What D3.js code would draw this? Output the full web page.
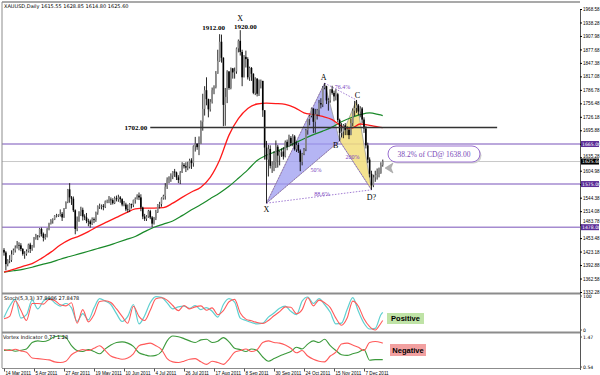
<!DOCTYPE html>
<html>
<head>
<meta charset="utf-8">
<script src="https://cdn.jsdelivr.net/npm/d3@7"></script>
<style>
  body { margin: 0; background: #fff; }
  svg { display: block; }
</style>
</head>
<body>
<div id="chart"></div>
<script>
// XAUUSD daily, 14 Mar 2011 .. 21 Dec 2011 (bar index = trading day)
const closes = [
  1421,1395,1403,1404,1417, 1426,1432,1438,1437,1429, 1418,1418,1424,1439,1429,
  1437,1454,1459,1458,1474, 1463,1454,1456,1474,1486, 1493,1495,1504,1504,1505,
  1508,1500,1520,1534,1563, 1545,1542,1516,1474,1492, 1512,1517,1502,1500,1492,
  1491,1485,1496,1494,1511, 1525,1526,1526,1524,1536, 1537,1540,1539,1532,1543,
  1541,1545,1541,1529,1529, 1518,1517,1530,1528,1539, 1542,1549,1545,1522,1502,
  1497,1502,1514,1500,1486, 1498,1512,1529,1530,1543, 1548,1569,1585,1592,1594,
  1603,1601,1590,1584,1601, 1618,1615,1612,1614,1628, 1622,1660,1666,1658,1665,
  1715,1744,1786,1766,1743, 1760,1786,1793,1823,1852, 1895,1859,1753,1771,1828,
  1791,1835,1826,1828,1880, 1897,1872,1815,1861,1856, 1815,1836,1823,1780,1812,
  1778,1806,1807,1741,1657, 1630,1654,1616,1618,1624, 1659,1639,1647,1648,1637,
  1670,1659,1679,1667,1682, 1653,1663,1650,1625,1643, 1653,1696,1721,1728,1745,
  1715,1732,1741,1757,1754, 1792,1795,1763,1763,1788, 1780,1772,1777,1719,1690,
  1693,1707,1697,1697,1685, 1712,1740,1746,1752,1738, 1745,1720,1700,1662,1630,
  1598,1572,1590,1595,1598, 1600,1618,1626
];
const highs = [
  1431,1424,1406,1415,1426, 1430,1437,1447,1444,1442, 1431,1424,1428,1441,1443,
  1438,1456,1463,1460,1476, 1477,1466,1463,1476,1488, 1496,1498,1505,1508,1507,
  1518,1512,1521,1536,1564, 1577,1548,1547,1518,1502, 1514,1524,1522,1507,1510,
  1497,1495,1500,1500,1513, 1527,1531,1529,1530,1538, 1540,1548,1545,1543,1547,
  1549,1551,1548,1543,1537, 1533,1529,1532,1531,1540, 1545,1552,1556,1552,1524,
  1508,1505,1517,1517,1503, 1501,1517,1530,1535,1545, 1551,1577,1590,1592,1599,
  1604,1609,1603,1595,1604, 1624,1622,1624,1625,1632, 1633,1662,1681,1666,1682,
  1718,1778,1795,1815,1767, 1766,1792,1797,1829,1877, 1912,1911,1860,1791,1831,
  1829,1837,1836,1837,1882, 1900,1921,1877,1865,1875, 1860,1839,1838,1824,1815,
  1813,1810,1810,1800,1740, 1672,1663,1662,1626,1649, 1673,1663,1650,1655,1658,
  1673,1675,1686,1683,1687, 1685,1671,1668,1653,1645, 1656,1699,1721,1730,1747,
  1732,1744,1744,1764,1768, 1795,1802,1796,1768,1788, 1796,1785,1788,1780,1722,
  1712,1710,1712,1705,1700, 1722,1745,1762,1764,1755, 1750,1748,1725,1705,1668,
  1635,1605,1596,1605,1610, 1612,1624,1630
];
const lows = [
  1414,1381,1390,1397,1400, 1416,1421,1430,1426,1424, 1414,1407,1414,1421,1420,
  1425,1432,1450,1449,1455, 1457,1446,1450,1455,1471, 1484,1486,1494,1500,1501,
  1502,1492,1499,1519,1532, 1533,1528,1512,1462,1469, 1490,1503,1493,1494,1487,
  1480,1477,1483,1487,1490, 1506,1519,1518,1516,1521, 1532,1532,1528,1529,1530,
  1536,1535,1533,1525,1525, 1514,1511,1512,1520,1523, 1531,1540,1539,1514,1496,
  1492,1492,1499,1496,1478, 1484,1494,1510,1520,1524, 1540,1540,1564,1577,1580,
  1586,1591,1584,1577,1575, 1600,1610,1602,1606,1610, 1609,1614,1648,1652,1640,
  1666,1695,1729,1752,1725, 1738,1756,1777,1790,1823, 1850,1848,1705,1706,1757,
  1787,1788,1812,1812,1823, 1871,1864,1795,1815,1837, 1810,1807,1807,1777,1775,
  1772,1773,1790,1726,1630, 1532,1592,1610,1600,1604, 1611,1612,1617,1636,1630,
  1635,1651,1658,1660,1660, 1650,1647,1645,1604,1617, 1640,1649,1686,1707,1725,
  1690,1690,1720,1728,1745, 1748,1788,1755,1740,1758, 1776,1761,1763,1714,1672,
  1680,1678,1685,1685,1676, 1700,1705,1728,1735,1730, 1725,1712,1690,1655,1622,
  1590,1562,1568,1580,1585, 1590,1598,1614
];
const firstOpen = 1427;

const dateLabels = ["14 Mar 2011","5 Apr 2011","27 Apr 2011","19 May 2011","10 Jun 2011",
  "4 Jul 2011","26 Jul 2011","17 Aug 2011","8 Sep 2011","30 Sep 2011",
  "24 Oct 2011","15 Nov 2011","7 Dec 2011"];
const dateBars = [0,16,32,48,64,80,96,112,128,144,160,176,192];

const priceTicks = [1968.58,1938.28,1907.98,1877.68,1847.38,1817.08,1786.78,1756.48,
  1726.18,1695.88,1665.58,1635.28,1604.98,1574.68,1544.38,1514.08,1483.78,1453.48,
  1423.18,1392.88,1362.58,1332.28];

// moving averages (every 5 bars)
const maBars = [0,5,10,15,20,25,30,35,40,45,50,55,60,65,70,75,80,85,90,95,100,
  105,110,115,120,125,130,135,140,145,150,155,160,165,170,175,180,185,190,195,200,202];
const redMA = [1377,1383,1390,1396,1408,1422,1438,1450,1458,1468,1480,1490,1500,1510,
  1519,1521,1521,1522,1532,1545,1557,1568,1590,1629,1685,1722,1745,1755,1757,1756,
  1754,1747,1735,1731,1727,1720,1705,1700,1710,1707,1703,1702];
const greenMA = [1377,1380,1383,1388,1394,1399,1406,1412,1418,1424,1430,1436,1443,1450,
  1457,1468,1478,1485,1492,1504,1517,1529,1542,1555,1570,1588,1607,1628,1640,1648,
  1657,1667,1677,1686,1694,1703,1715,1724,1731,1735,1731,1729];

// oscillators (every 3 bars)
const oscBars = [0,3,6,9,12,15,18,21,24,27,30,33,36,39,42,45,48,51,54,57,60,63,66,69,
  72,75,78,81,84,87,90,93,96,99,102,105,108,111,114,117,120,123,126,129,132,135,138,
  141,144,147,150,153,156,159,162,165,168,171,174,177,180,183,186,189,192,195,198,201,202];
const stochK = [37,70,90,35,45,88,62,85,94,80,70,78,65,25,48,30,65,92,85,75,48,25,40,75,
  18,42,80,98,96,80,62,68,70,64,72,60,66,55,38,75,92,82,35,28,22,18,20,38,50,64,70,55,
  45,85,97,78,92,75,52,18,20,60,95,55,20,3,5,45,52];
const stochD = [33,40,86,58,28,78,78,76,90,87,74,71,80,20,60,24,45,84,86,81,62,40,20,70,
  40,28,58,92,95,88,72,57,72,62,68,71,58,65,45,57,83,90,50,32,27,22,19,28,42,54,68,67,
  48,60,95,71,88,80,66,35,14,35,85,70,33,10,0,20,28];
const viPlus = [1.05,1.07,1.03,1.06,1.10,1.30,1.35,1.33,1.38,1.48,1.50,1.45,1.20,1.05,1.02,
  1.08,1.02,0.95,1.10,1.22,1.30,1.32,1.28,1.18,0.98,0.92,0.88,0.90,1.02,1.35,1.50,1.48,
  1.42,1.35,1.30,1.38,1.40,1.30,1.34,1.45,1.32,1.12,1.08,1.02,1.10,1.05,0.85,0.72,0.80,
  0.88,0.95,1.02,1.15,1.10,1.25,1.35,1.30,1.40,1.20,1.05,0.92,0.90,0.95,1.00,1.08,0.75,
  0.77,0.77,0.77];
const viMinus = [1.08,1.05,1.09,1.04,1.00,0.82,0.80,0.78,0.76,0.70,0.68,0.72,0.92,1.02,1.08,
  1.05,1.12,1.20,1.05,0.88,0.82,0.78,0.82,0.95,1.20,1.25,1.28,1.20,1.08,0.80,0.70,0.68,
  0.72,0.78,0.80,0.70,0.62,0.72,0.68,0.62,0.78,1.00,1.05,1.10,1.02,1.08,1.30,1.35,1.30,
  1.28,1.22,1.12,0.98,1.05,0.88,0.78,0.72,0.70,0.88,1.00,1.25,1.28,1.22,1.15,1.05,1.30,
  1.33,1.30,1.28];

// horizontal levels
const levels = [1665.00, 1575.00, 1478.00];
const lastPrice = 1625.60;
const resistance = 1702.00;
const resistanceBars = [78, 263];

// harmonic pattern points
const patNames = ["X","A","B","C","D?"];
const patBars = [140,171,179,188,196];
const patPrices = [1532,1802,1672,1764,1562];
const peakBars = [115,126];
const peakPrices = [1912.00,1920.00];

// ---------------------------------------------------------------
const W = 600, H = 375;
const left = 2, right = 580;
const mainTop = 2, mainBot = 293;
const stTop = 294, stBot = 332;
const viTop = 333, viBot = 368;

const svg = d3.select("#chart").append("svg")
  .attr("width", W).attr("height", H)
  .style("font-family", "'DejaVu Sans', sans-serif");

const x = d3.scaleLinear().domain([0, 308]).range([4, 581.5]);
const y = d3.scaleLinear().domain([1332.28, 1968.58]).range([292, 9]);
const ySt = d3.scaleLinear().domain([0, 100]).range([330, 296]);
const yVi = d3.scaleLinear().domain([0.54, 1.47]).range([367, 337]);

const defs = svg.append("defs");
[["clipMain", mainTop, mainBot], ["clipSt", stTop, stBot], ["clipVi", viTop, viBot]]
  .forEach(function(c) {
    defs.append("clipPath").attr("id", c[0]).append("rect")
      .attr("x", left).attr("y", c[1]).attr("width", right - left).attr("height", c[2] - c[1]);
  });

const main = svg.append("g").attr("clip-path", "url(#clipMain)");

// purple support / resistance levels
main.selectAll(".lvl").data(levels).enter().append("line")
  .attr("x1", left).attr("x2", right)
  .attr("y1", d => y(d)).attr("y2", d => y(d))
  .attr("stroke", "#a58bd0").attr("stroke-width", 1.4);

// current price line
main.append("line").attr("x1", left).attr("x2", right)
  .attr("y1", y(lastPrice)).attr("y2", y(lastPrice))
  .attr("stroke", "#c8c8c8").attr("stroke-width", 1);

// harmonic pattern triangles
const pt = i => [x(patBars[i]), y(patPrices[i])];
main.append("polygon")
  .attr("points", [pt(0), pt(1), pt(2)].map(p => p.join(",")).join(" "))
  .attr("fill", "#9c9cf0").attr("fill-opacity", 0.75)
  .attr("stroke", "#9a9a9a").attr("stroke-width", 0.8);
main.append("polygon")
  .attr("points", [pt(2), pt(3), pt(4)].map(p => p.join(",")).join(" "))
  .attr("fill", "#f2de7c").attr("fill-opacity", 0.85)
  .attr("stroke", "#9a9a9a").attr("stroke-width", 0.8);

// dotted ratio lines
[[0, 1], [0, 2], [1, 3], [2, 4], [0, 4]].forEach(function(p) {
  main.append("line")
    .attr("x1", pt(p[0])[0]).attr("y1", pt(p[0])[1])
    .attr("x2", pt(p[1])[0]).attr("y2", pt(p[1])[1])
    .attr("stroke", "#8a5cc8").attr("stroke-width", 0.8)
    .attr("stroke-dasharray", "1.5,1.5");
});

// moving averages
const maLine = d3.line().x((d, i) => x(maBars[i])).y(d => y(d)).curve(d3.curveMonotoneX);
main.append("path").datum(greenMA).attr("d", maLine)
  .attr("fill", "none").attr("stroke", "#1a8a2a").attr("stroke-width", 1.2);
main.append("path").datum(redMA).attr("d", maLine)
  .attr("fill", "none").attr("stroke", "#ff1a1a").attr("stroke-width", 1.3);

// candles
const bars = closes.map(function(c, i) {
  const o = i === 0 ? firstOpen : closes[i - 1];
  return { i: i, o: o, c: c, h: Math.max(highs[i], o, c), l: Math.min(lows[i], o, c) };
});
const cg = main.append("g");
cg.selectAll(".wick").data(bars).enter().append("line")
  .attr("x1", d => x(d.i)).attr("x2", d => x(d.i))
  .attr("y1", d => y(d.h)).attr("y2", d => y(d.l))
  .attr("stroke", "#111").attr("stroke-width", 0.9);
cg.selectAll(".body").data(bars).enter().append("rect")
  .attr("x", d => x(d.i) - 0.8).attr("width", 1.6)
  .attr("y", d => y(Math.max(d.o, d.c)))
  .attr("height", d => Math.max(0.6, Math.abs(y(d.o) - y(d.c))))
  .attr("fill", d => d.c >= d.o ? "#8a8a8a" : "#000");

// 1702 resistance
main.append("line")
  .attr("x1", x(resistanceBars[0])).attr("x2", x(resistanceBars[1]))
  .attr("y1", y(resistance)).attr("y2", y(resistance))
  .attr("stroke", "#333").attr("stroke-width", 1.5);

// callout box (drawn before its text)
const cx0 = 388, cy0 = 146;
svg.append("rect").attr("x", cx0 + 1.5).attr("y", cy0 + 1.5).attr("width", 92).attr("height", 16)
  .attr("rx", 8).attr("fill", "#d0d0d0");
svg.append("rect").attr("x", cx0).attr("y", cy0).attr("width", 92).attr("height", 16)
  .attr("rx", 8).attr("fill", "#fff").attr("stroke", "#9a70d0").attr("stroke-width", 1);
svg.append("polygon")
  .attr("points", [[385, 168], [393, 163], [391, 168], [393, 173]].map(p => p.join(",")).join(" "))
  .attr("fill", "#b0b0b0").attr("stroke", "#999").attr("stroke-width", 0.5);

// text annotations (serif)
const ann = svg.append("g").style("font-family", "'Liberation Serif', serif");
ann.append("text").attr("x", cx0 + 46).attr("y", cy0 + 11).attr("text-anchor", "middle")
  .attr("font-size", 7.5).attr("fill", "#7a4ab8").text("38.2% of CD@ 1638.00");
ann.append("text").attr("x", x(resistanceBars[0]) - 3).attr("y", y(resistance) + 2.5)
  .attr("text-anchor", "end").attr("font-size", 7).attr("font-weight", "bold")
  .text(d3.format(".2f")(resistance));
ann.append("text").attr("x", x(peakBars[0]) - 6).attr("y", y(peakPrices[0]) - 4)
  .attr("text-anchor", "middle").attr("font-size", 7).attr("font-weight", "bold")
  .text(d3.format(".2f")(peakPrices[0]));
ann.append("text").attr("x", x(peakBars[1]) + 5).attr("y", y(peakPrices[1]) - 2)
  .attr("text-anchor", "middle").attr("font-size", 7).attr("font-weight", "bold")
  .text(d3.format(".2f")(peakPrices[1]));
ann.append("text").attr("x", x(peakBars[1])).attr("y", y(peakPrices[1]) - 10)
  .attr("text-anchor", "middle").attr("font-size", 8).text("X");

const labOff = [[0, 9], [-1, -3], [-4, 7], [1, -2], [0, 10]];
patNames.forEach(function(n, i) {
  ann.append("text").attr("x", pt(i)[0] + labOff[i][0]).attr("y", pt(i)[1] + labOff[i][1])
    .attr("text-anchor", "middle").attr("font-size", 8).text(n);
});

// ratio labels
const ratioLab = [["76.4%", 1, 3, 2, -3], ["50%", 0, 2, 13, 0], ["200%", 2, 4, -3, -6], ["88.6%", 0, 4, 3, -1]];
ratioLab.forEach(function(r) {
  const a = pt(r[1]), b = pt(r[2]);
  ann.append("text").attr("x", (a[0] + b[0]) / 2 + r[3]).attr("y", (a[1] + b[1]) / 2 + r[4])
    .attr("text-anchor", "middle").attr("font-size", 6).attr("fill", "#7a3fc0").text(r[0]);
});

// title
svg.append("text").attr("x", 4).attr("y", 8).attr("font-size", 5).attr("fill", "#000")
  .text("XAUUSD,Daily  1615.55 1628.85 1614.80 1625.60");

// ---- stochastic panel
const st = svg.append("g").attr("clip-path", "url(#clipSt)");
const oscLine = function(sc) {
  return d3.line().x((d, i) => x(oscBars[i])).y(d => sc(d)).curve(d3.curveMonotoneX);
};
st.append("path").datum(stochK).attr("d", oscLine(ySt))
  .attr("fill", "none").attr("stroke", "#5fd0d0").attr("stroke-width", 1.2);
st.append("path").datum(stochD).attr("d", oscLine(ySt))
  .attr("fill", "none").attr("stroke", "#ff5a5a").attr("stroke-width", 1.1);
svg.append("text").attr("x", 4).attr("y", 300).attr("font-size", 5)
  .text("Stoch(5,3,3) 37.8986 27.8478");

// ---- vortex panel
const vi = svg.append("g").attr("clip-path", "url(#clipVi)");
vi.append("path").datum(viPlus).attr("d", oscLine(yVi))
  .attr("fill", "none").attr("stroke", "#3c9a3c").attr("stroke-width", 1.1);
vi.append("path").datum(viMinus).attr("d", oscLine(yVi))
  .attr("fill", "none").attr("stroke", "#ff5a5a").attr("stroke-width", 1.1);
svg.append("text").attr("x", 3).attr("y", 339).attr("font-size", 5)
  .text("Vortex Indicator 0.77 1.28");

// Positive / Negative tags
const tags = [["Positive", 387, 313, 37, 11, "#bfe3a6"], ["Negative", 390, 344, 36, 12, "#f2a0a0"]];
tags.forEach(function(t) {
  svg.append("rect").attr("x", t[1]).attr("y", t[2]).attr("width", t[3]).attr("height", t[4])
    .attr("fill", t[5]);
  svg.append("text").attr("x", t[1] + t[3] / 2).attr("y", t[2] + t[4] / 2 + 2.8)
    .attr("text-anchor", "middle").attr("font-size", 7.5).attr("font-weight", "bold")
    .style("font-family", "'Liberation Sans', Arial, sans-serif").text(t[0]);
});

// ---- frame
const frame = svg.append("g").attr("stroke", "#8c8c8c").attr("fill", "none");
frame.append("line").attr("x1", left).attr("x2", right).attr("y1", 2).attr("y2", 2).attr("stroke-width", 1.5);
frame.append("line").attr("x1", left).attr("x2", left).attr("y1", 2).attr("y2", viBot);
frame.append("line").attr("x1", left).attr("x2", right).attr("y1", mainBot + 0.5).attr("y2", mainBot + 0.5).attr("stroke-width", 2);
frame.append("line").attr("x1", left).attr("x2", right).attr("y1", stBot + 0.5).attr("y2", stBot + 0.5).attr("stroke-width", 2);
frame.append("line").attr("x1", left).attr("x2", right).attr("y1", viBot + 0.5).attr("y2", viBot + 0.5);

// ---- right price axis
const tags2 = levels.concat([lastPrice]);
const axR = svg.append("g").attr("transform", "translate(" + right + ",0)")
  .call(d3.axisRight(y).tickValues(priceTicks).tickSize(2).tickPadding(1).tickFormat(d3.format(".2f")));
axR.select(".domain").attr("stroke", "#555");
axR.selectAll("text").attr("font-size", 4.6).attr("fill", "#000")
  .attr("dy", function(d) {
    // nudge labels that sit just beside a level tag
    let shift = 0;
    tags2.forEach(function(v) {
      const diff = y(d) - y(v);
      if (Math.abs(diff) > 1 && Math.abs(diff) < 6) shift = diff > 0 ? 6 - diff : -(6 + diff);
    });
    return (1.6 + shift) + "px";
  });

svg.append("line").attr("x1", right + 0.5).attr("x2", right + 0.5).attr("y1", mainBot).attr("y2", viBot + 2)
  .attr("stroke", "#555");

// level tags on axis
tags2.forEach(function(v, i) {
  const isLast = i === levels.length;
  svg.append("rect").attr("x", right + 1).attr("y", y(v) - 3).attr("width", 18).attr("height", 6)
    .attr("fill", isLast ? "#000" : "#5b2d96");
  svg.append("text").attr("x", right + 2).attr("y", y(v) + 1.8).attr("font-size", 4.6)
    .attr("fill", "#fff").text(d3.format(".2f")(v));
});

// oscillator axis labels
const oscAx = [["100", ySt(100)], ["0", ySt(0)], ["1.47", yVi(1.47)], ["0.54", yVi(0.54)]];
oscAx.forEach(function(a) {
  svg.append("line").attr("x1", right).attr("x2", right + 2).attr("y1", a[1]).attr("y2", a[1]).attr("stroke", "#555");
  svg.append("text").attr("x", right + 3).attr("y", a[1] + 1.8).attr("font-size", 4.6).text(a[0]);
});

// ---- date axis
const axB = svg.append("g").attr("transform", "translate(0," + (viBot + 0.5) + ")")
  .call(d3.axisBottom(x).tickValues(dateBars).tickSize(3).tickPadding(0)
    .tickFormat((d, i) => dateLabels[i]));
axB.select(".domain").remove();
axB.selectAll("line").attr("stroke", "#555");
axB.selectAll("text").attr("font-size", 4.6).attr("text-anchor", "start").attr("dx", 1).attr("fill", "#000");
</script>
</body>
</html>
